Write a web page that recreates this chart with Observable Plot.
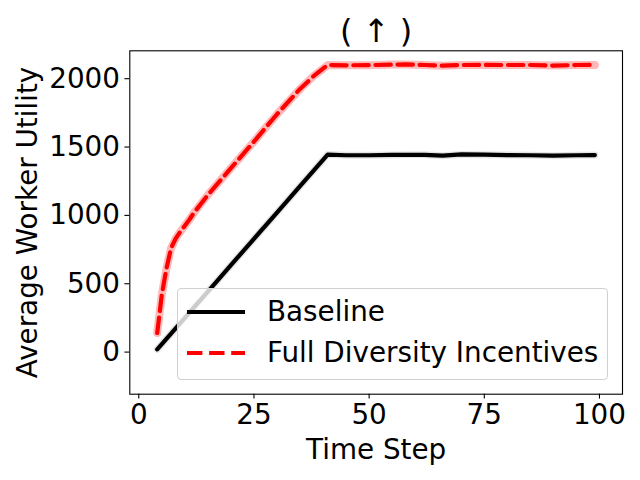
<!DOCTYPE html>
<html>
<head>
<meta charset="utf-8">
<script src="https://cdn.jsdelivr.net/npm/d3@7"></script>
<script src="https://cdn.jsdelivr.net/npm/@observablehq/plot@0.6"></script>
<style>
  html, body { margin: 0; padding: 0; background: #fff; }
  #wrap { position: relative; width: 640px; height: 480px; font-family: "DejaVu Sans", sans-serif; }
  #legend { position: absolute; left: 177px; top: 288px; width: 429px; height: 90px;
    border: 1px solid #d0d0d0; border-radius: 4px; background: rgba(255,255,255,0.8); }
  .row { position: absolute; left: 0; height: 36px; width: 100%; }
  .row svg { position: absolute; left: 8px; top: 0; }
  .row span { position: absolute; left: 89px; top: 0; line-height: 36px; font-size: 27.8px; color: #000; white-space: nowrap; }
</style>
</head>
<body>
<div id="wrap"></div>
<script>
const titleText = "( ↑ )";
const xLabel = "Time Step";
const yLabel = "Average Worker Utility";
const seriesNames = ["Baseline", "Full Diversity Incentives"];
const xTicks = [0, 25, 50, 75, 100];
const yTicks = [0, 500, 1000, 1500, 2000];

const steps    = [4, 5, 6, 7, 8, 9, 10, 11, 12, 15, 20, 25, 30, 35, 38, 41, 45, 50, 55, 58, 62, 66, 70, 75, 80, 85, 90, 95, 99];
const baseline = [20, 58, 97, 135, 174, 212, 251, 290, 328, 443, 636, 829, 1021, 1214, 1330, 1445, 1440, 1440, 1442, 1443, 1443, 1437, 1446, 1444, 1441, 1440, 1437, 1440, 1441];
const fullDiv  = [140, 420, 610, 760, 830, 880, 925, 970, 1020, 1150, 1345, 1540, 1740, 1925, 2020, 2100, 2098, 2099, 2103, 2104, 2100, 2095, 2100, 2101, 2100, 2100, 2096, 2100, 2101];

const rows = steps.map((s, i) => ({step: s, base: baseline[i], full: fullDiv[i]}));

const FONT = "DejaVu Sans";
const plot = Plot.plot({
  width: 640,
  height: 480,
  marginLeft: 129.3,
  marginRight: 18,
  marginTop: 50.3,
  marginBottom: 86.3,
  style: {fontFamily: FONT, fontSize: "28px", color: "#000", background: "#fff"},
  x: {domain: [-1.95, 105]},
  y: {domain: [-308, 2204]},
  marks: [
    Plot.line(rows, {x: "step", y: "base", stroke: "#000", strokeOpacity: 0.1, strokeWidth: 7}),
    Plot.line(rows, {x: "step", y: "full", stroke: "#ff0000", strokeOpacity: 0.28, strokeWidth: 8}),
    Plot.line(rows, {x: "step", y: "base", stroke: "#000", strokeWidth: 4.2, strokeLinejoin: "round"}),
    Plot.line(rows, {x: "step", y: "full", stroke: "#ff0000", strokeWidth: 4.2, strokeDasharray: "15.4,6.7", strokeLinejoin: "round"}),
    Plot.frame({stroke: "#000", strokeWidth: 1.1}),
    Plot.axisX({ticks: xTicks, tickFormat: d => String(d), tickSize: 4.9, tickPadding: 4.9, fontSize: 27.8, label: null, strokeWidth: 1.1}),
    Plot.axisY({ticks: yTicks, tickFormat: d => String(d), tickSize: 4.9, tickPadding: 4.9, fontSize: 27.8, label: null, strokeWidth: 1.1}),
    Plot.text([titleText], {text: d => d, frameAnchor: "top", textAnchor: "middle", lineAnchor: "bottom", dy: -9, fontSize: 32}),
    Plot.text([xLabel], {text: d => d, frameAnchor: "bottom", textAnchor: "middle", lineAnchor: "bottom", dy: 64.6, fontSize: 27.8}),
    Plot.text([yLabel], {text: d => d, frameAnchor: "left", textAnchor: "middle", lineAnchor: "bottom", rotate: -90, dx: -93, fontSize: 27.8})
  ]
});
const wrap = document.getElementById("wrap");
wrap.appendChild(plot);

const legend = document.createElement("div");
legend.id = "legend";
const dashes = ["none", "15.4,6.7"];
const colors = ["#000", "#ff0000"];
const tops = [5, 46];
seriesNames.forEach((name, i) => {
  const row = document.createElement("div");
  row.className = "row";
  row.style.top = tops[i] + "px";
  row.innerHTML = `<svg width="60" height="36"><line x1="1" x2="59" y1="18" y2="18" stroke="${colors[i]}" stroke-width="4.2" stroke-dasharray="${dashes[i]}"/></svg><span>${name}</span>`;
  legend.appendChild(row);
});
wrap.appendChild(legend);
</script>
</body>
</html>
